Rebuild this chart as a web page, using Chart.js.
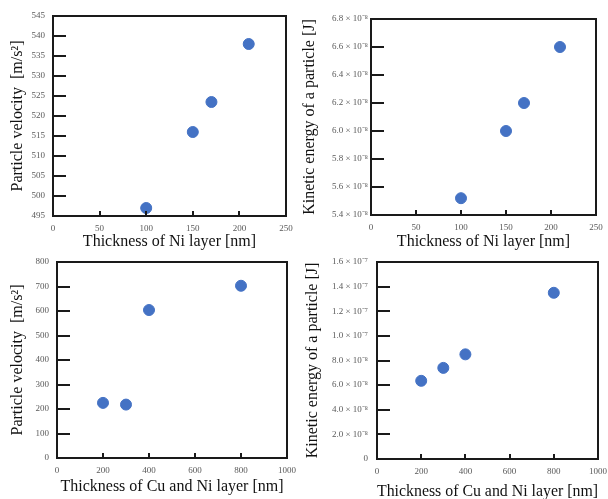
<!DOCTYPE html>
<html>
<head>
<meta charset="utf-8">
<script src="https://cdn.jsdelivr.net/npm/chart.js@4"></script>
<style>
  body { margin: 0; background: #fff; width: 608px; height: 499px; overflow: hidden; position: relative; }
  canvas { position: absolute; }
</style>
</head>
<body>
<canvas id="c1" width="300" height="256" style="left:0;top:0"></canvas>
<canvas id="c2" width="308" height="256" style="left:300px;top:0"></canvas>
<canvas id="c3" width="300" height="249" style="left:0;top:250px"></canvas>
<canvas id="c4" width="308" height="256" style="left:300px;top:250px"></canvas>
<script>
// data
const thicknessNi = [100, 150, 170, 210];
const velocityNi = [497, 516, 523.5, 538];
const energyNi = [5.52e-8, 6.0e-8, 6.2e-8, 6.6e-8];

const thicknessCuNi = [200, 300, 400, 800];
const velocityCuNi = [225, 218, 604, 703];
const energyCuNi = [6.35e-8, 7.4e-8, 8.5e-8, 1.35e-7];

const energyNiTicks = ['5.4 × 10⁻⁸', '5.6 × 10⁻⁸', '5.8 × 10⁻⁸', '6.0 × 10⁻⁸', '6.2 × 10⁻⁸', '6.4 × 10⁻⁸', '6.6 × 10⁻⁸', '6.8 × 10⁻⁸'];
const energyCuNiTicks = ['0', '2.0 × 10⁻⁸', '4.0 × 10⁻⁸', '6.0 × 10⁻⁸', '8.0 × 10⁻⁸', '1.0 × 10⁻⁷', '1.2 × 10⁻⁷', '1.4 × 10⁻⁷', '1.6 × 10⁻⁷'];

const serif = '"Liberation Serif", "Times New Roman", serif';
const tickColor = '#595959';
const dotColor = '#4472C4';

// frame + inward tick marks
const framePlugin = {
  id: 'frame',
  afterDraw(chart) {
    const { ctx, chartArea: a, scales } = chart;
    ctx.save();
    ctx.strokeStyle = '#1a1a1a';
    ctx.lineWidth = 2;
    ctx.beginPath();
    scales.y.ticks.forEach((t, i) => {
      if (i === 0 || i === scales.y.ticks.length - 1) return;
      const py = Math.round(scales.y.getPixelForValue(t.value));
      ctx.moveTo(a.left, py);
      ctx.lineTo(a.left + 13, py);
    });
    scales.x.ticks.forEach((t, i) => {
      if (i === 0 || i === scales.x.ticks.length - 1) return;
      const px = Math.round(scales.x.getPixelForValue(t.value));
      ctx.moveTo(px, a.bottom);
      ctx.lineTo(px, a.bottom - 5);
    });
    ctx.stroke();
    ctx.strokeRect(a.left, a.top, a.right - a.left, a.bottom - a.top);
    ctx.restore();
  }
};

function makeChart(id, cfg) {
  new Chart(document.getElementById(id), {
    type: 'scatter',
    data: {
      datasets: [{
        data: cfg.xs.map((x, i) => ({ x: x, y: cfg.ys[i] })),
        backgroundColor: dotColor,
        borderColor: dotColor,
        pointRadius: 5.5,
        pointHoverRadius: 5.5
      }]
    },
    options: {
      responsive: false,
      animation: false,
      layout: { padding: { top: cfg.padTop, right: cfg.padRight, left: 0, bottom: 0 } },
      plugins: { legend: { display: false }, tooltip: { enabled: false } },
      scales: {
        x: {
          type: 'linear',
          min: cfg.xMin, max: cfg.xMax,
          grid: { display: false, drawTicks: false },
          border: { display: false },
          ticks: { stepSize: cfg.xStep, color: tickColor, font: { family: serif, size: 9 }, padding: 7, maxRotation: 0, callback: v => String(v) },
          title: { display: true, text: cfg.xTitle, color: '#111', font: { family: serif, size: 16, lineHeight: 1.2 }, padding: { top: 0, bottom: cfg.xTitlePad } },
          afterFit: s => { s.height = cfg.xHeight; s.paddingLeft = 0; s.paddingRight = 0; }
        },
        y: {
          type: 'linear',
          min: cfg.yMin, max: cfg.yMax,
          grid: { display: false, drawTicks: false },
          border: { display: false },
          ticks: {
            stepSize: cfg.yStep, color: tickColor, font: { family: serif, size: 9 }, padding: cfg.yTickPad,
            callback: cfg.yLabels ? (v, i) => cfg.yLabels[i] : v => String(v)
          },
          title: { display: true, text: cfg.yTitle, color: '#111', font: { family: serif, size: 16, lineHeight: 1.2 }, padding: { top: cfg.yTitlePad, bottom: 0 } },
          afterFit: s => { s.width = cfg.yWidth; s.paddingTop = 0; s.paddingBottom = 0; }
        }
      }
    },
    plugins: [framePlugin]
  });
}

makeChart('c1', {
  xs: thicknessNi, ys: velocityNi,
  xMin: 0, xMax: 250, xStep: 50, yMin: 495, yMax: 545, yStep: 5,
  xTitle: 'Thickness of Ni layer [nm]', yTitle: 'Particle velocity  [m/s²]',
  padTop: 16, padRight: 14, xHeight: 40, yWidth: 53, xTitlePad: 4.4, yTitlePad: 8.4, yTickPad: 8
});

makeChart('c2', {
  xs: thicknessNi, ys: energyNi, yLabels: energyNiTicks,
  xMin: 0, xMax: 250, xStep: 50, yMin: 5.4e-8, yMax: 6.8e-8, yStep: 0.2e-8,
  xTitle: 'Thickness of Ni layer [nm]', yTitle: 'Kinetic energy of a particle [J]',
  padTop: 19, padRight: 12, xHeight: 41, yWidth: 71, xTitlePad: 4.4, yTitlePad: 0.4, yTickPad: 3
});

makeChart('c3', {
  xs: thicknessCuNi, ys: velocityCuNi,
  xMin: 0, xMax: 1000, xStep: 200, yMin: 0, yMax: 800, yStep: 100,
  xTitle: 'Thickness of Cu and Ni layer [nm]', yTitle: 'Particle velocity  [m/s²]',
  padTop: 12, padRight: 13, xHeight: 41, yWidth: 57, xTitlePad: 2.4, yTitlePad: 8.4, yTickPad: 8
});

makeChart('c4', {
  xs: thicknessCuNi, ys: energyCuNi, yLabels: energyCuNiTicks,
  xMin: 0, xMax: 1000, xStep: 200, yMin: 0, yMax: 1.6e-7, yStep: 2e-8,
  xTitle: 'Thickness of Cu and Ni layer [nm]', yTitle: 'Kinetic energy of a particle [J]',
  padTop: 12, padRight: 10, xHeight: 47, yWidth: 77, xTitlePad: 4.4, yTitlePad: 3.4, yTickPad: 9
});
</script>
</body>
</html>
